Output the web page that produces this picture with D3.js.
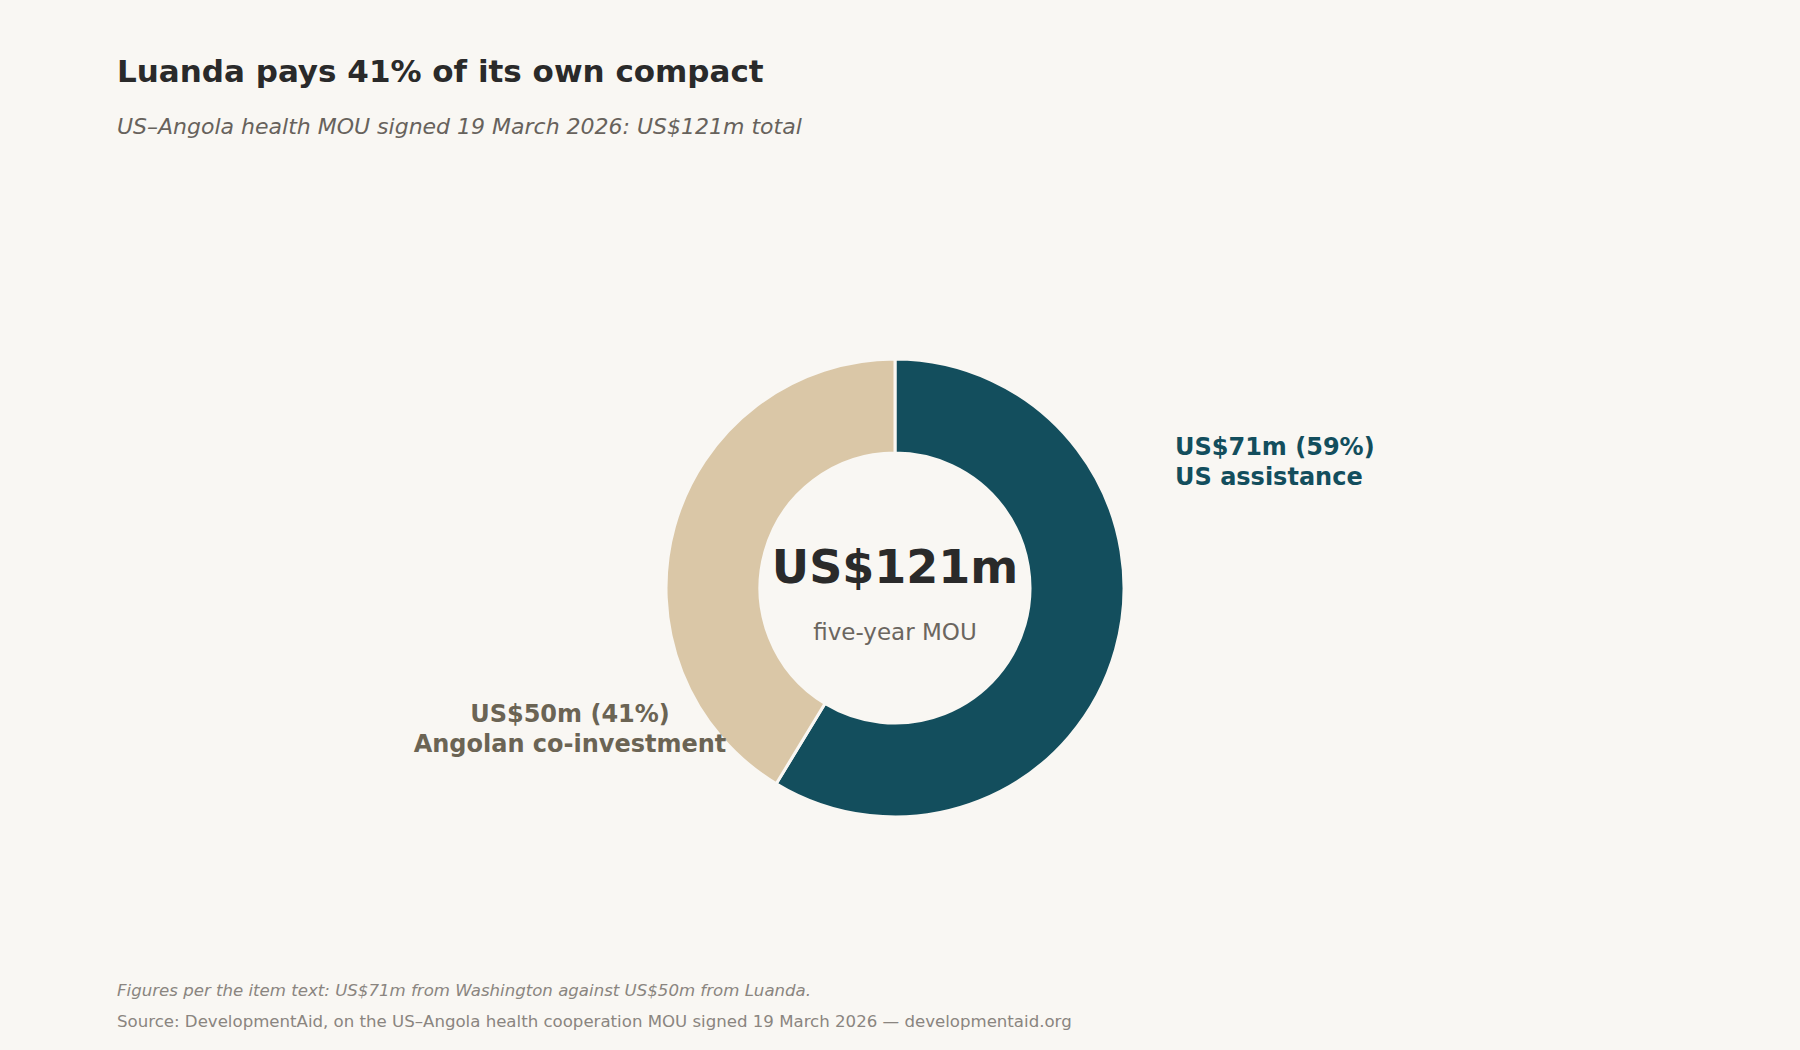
<!DOCTYPE html>
<html>
<head>
    <title>Luanda pays 41% of its own compact</title>
    <style>
        body {
            margin: 0;
            background-color: #f9f7f3;
            font-family: "DejaVu Sans", sans-serif;
        }
        .title { font-size: 31px; font-weight: bold; fill: #2a2a2a; }
        .subtitle { font-size: 22px; font-style: italic; fill: #67625c; }
        .note { font-size: 16.6px; fill: #8a8580; }
        .center-value { font-size: 46px; font-weight: bold; fill: #2a2a2a; text-anchor: middle; }
        .center-label { font-size: 23px; fill: #6b665f; text-anchor: middle; }
        .slice-label { font-size: 24px; font-weight: bold; }
    </style>
</head>
<body>
    <div id="chart"></div>

    <script src="https://cdnjs.cloudflare.com/ajax/libs/d3/7.8.5/d3.min.js"></script>
    <script>
        // Data
        const categories = ['US assistance', 'Angolan co-investment'];
        const amounts = [71, 50];          // US$m
        const shares = [59, 41];           // % of total
        const colors = ['#134e5d', '#dac7a7'];
        const labelColors = ['#134e5d', '#6b6454'];
        const total = 121;

        const width = 1800, height = 1050;
        const cx = 895, cy = 588;
        const outerR = 229, innerR = 135;

        const svg = d3.select('#chart')
            .append('svg')
            .attr('width', width)
            .attr('height', height);

        svg.append('rect')
            .attr('width', width)
            .attr('height', height)
            .attr('fill', '#f9f7f3');

        // Header
        svg.append('text')
            .attr('class', 'title')
            .attr('x', 117)
            .attr('y', 82)
            .text('Luanda pays 41% of its own compact');

        svg.append('text')
            .attr('class', 'subtitle')
            .attr('x', 117)
            .attr('y', 134)
            .text('US\u2013Angola health MOU signed 19 March 2026: US$121m total');

        // Donut
        const pie = d3.pie().sort(null).value(d => d);
        const arc = d3.arc().innerRadius(innerR).outerRadius(outerR);
        const arcs = pie(amounts);

        const g = svg.append('g')
            .attr('transform', `translate(${cx},${cy})`);

        g.selectAll('path')
            .data(arcs)
            .enter()
            .append('path')
            .attr('d', arc)
            .attr('fill', (d, i) => colors[i])
            .attr('stroke', '#f9f7f3')
            .attr('stroke-width', 3);

        // Centre text
        g.append('text')
            .attr('class', 'center-value')
            .attr('y', -5)
            .text(`US$${total}m`);

        g.append('text')
            .attr('class', 'center-label')
            .attr('y', 52)
            .text('five-year MOU');

        // Slice labels
        const labelPos = [
            {x: 1175, y: 455, anchor: 'start'},
            {x: 570, y: 722, anchor: 'middle'}
        ];

        categories.forEach((c, i) => {
            const t = svg.append('text')
                .attr('class', 'slice-label')
                .attr('x', labelPos[i].x)
                .attr('y', labelPos[i].y)
                .attr('text-anchor', labelPos[i].anchor)
                .attr('fill', labelColors[i]);
            t.append('tspan')
                .attr('x', labelPos[i].x)
                .text(`US$${amounts[i]}m (${shares[i]}%)`);
            t.append('tspan')
                .attr('x', labelPos[i].x)
                .attr('dy', 30)
                .text(c);
        });

        // Footnotes
        svg.append('text')
            .attr('class', 'note')
            .attr('x', 117)
            .attr('y', 996)
            .attr('font-style', 'italic')
            .text('Figures per the item text: US$71m from Washington against US$50m from Luanda.');

        svg.append('text')
            .attr('class', 'note')
            .attr('x', 117)
            .attr('y', 1027)
            .text('Source: DevelopmentAid, on the US\u2013Angola health cooperation MOU signed 19 March 2026 \u2014 developmentaid.org');
    </script>
</body>
</html>
